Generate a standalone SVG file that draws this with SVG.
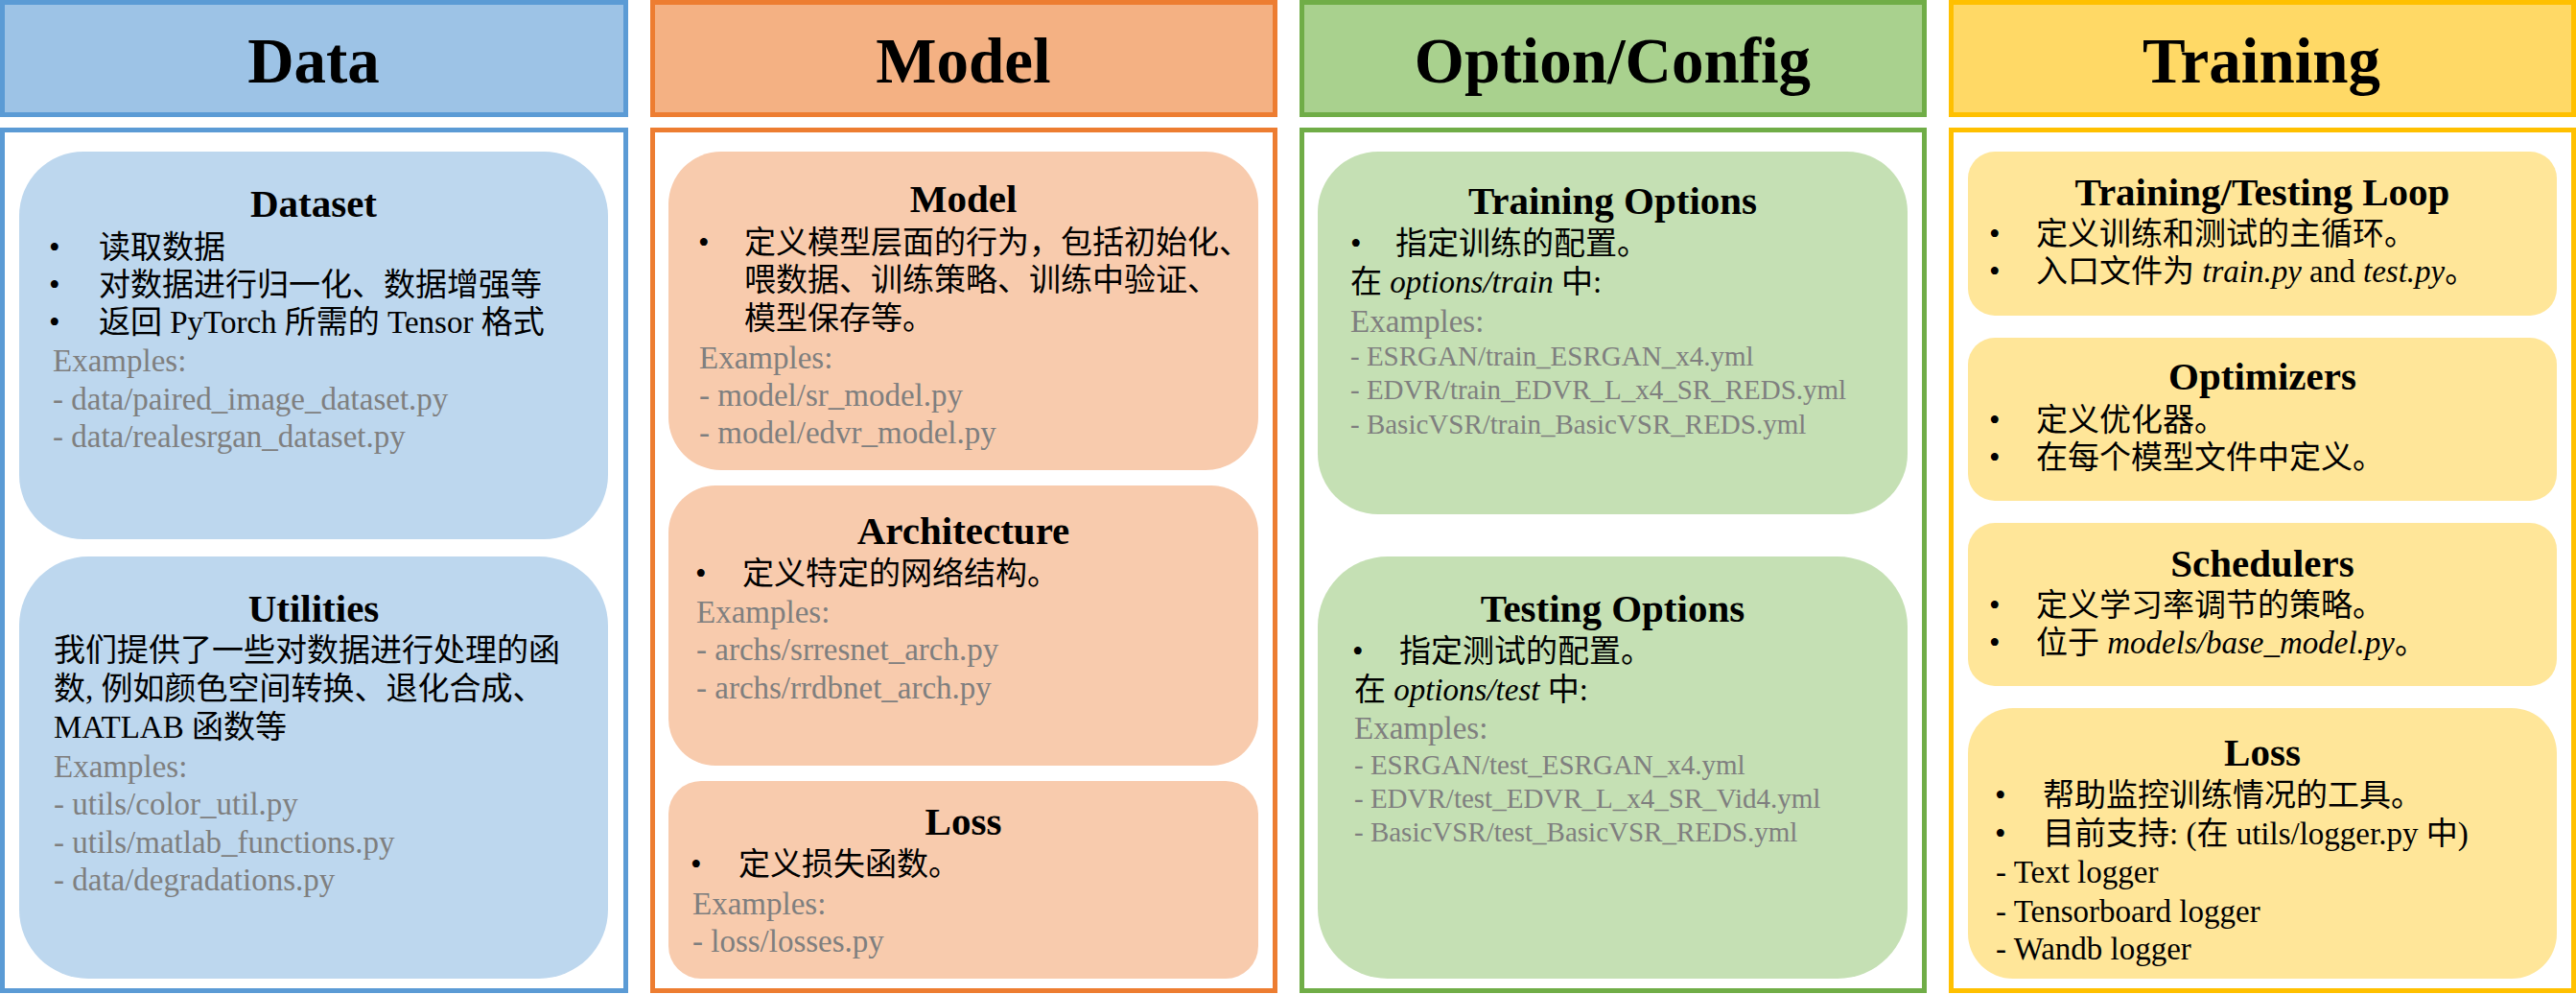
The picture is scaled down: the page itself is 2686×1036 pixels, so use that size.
<svg xmlns="http://www.w3.org/2000/svg" width="2686" height="1036" viewBox="0 0 2686 1036">
<style>
text{font-family:"Liberation Serif","Noto Sans CJK SC",serif;fill:#000}
.hd{font-size:67px;font-weight:bold;text-anchor:middle}
.tt{font-size:41px;font-weight:bold;text-anchor:middle}
.tx{font-size:33px}
.ex{font-size:33px;fill:#7F7F7F}
.ex2{font-size:29px;fill:#7F7F7F}
.it{font-style:italic}
.frame{fill:#fff;stroke-width:5}
.b-data{stroke:#5B9BD5}.b-model{stroke:#ED7D31}.b-opt{stroke:#70AD47}.b-train{stroke:#FFC000}
</style>
<rect width="2686" height="1036" fill="#fff"/>

<g id="col-data">
<rect class="b-data" x="2.5" y="2.5" width="650" height="117" fill="#9DC3E6" stroke-width="5"/>
<text class="hd" x="327" y="86">Data</text>
<rect class="frame b-data" x="2.5" y="135.5" width="650" height="897"/>
</g>
<g id="node-dataset">
<rect x="20" y="158" width="614" height="404" rx="67" fill="#BDD7EE"/>
<text class="tt" x="327" y="226">Dataset</text>
<text class="tx" x="51" y="269">•</text><text class="tx" x="103" y="269">读取数据</text>
<text class="tx" x="51" y="308">•</text><text class="tx" x="103" y="308">对数据进行归一化、数据增强等</text>
<text class="tx" x="51" y="347">•</text><text class="tx" x="103" y="347">返回 PyTorch 所需的 Tensor 格式</text>
<text class="ex" x="55" y="387">Examples:</text>
<text class="ex" x="55" y="427">- data/paired_image_dataset.py</text>
<text class="ex" x="55" y="466">- data/realesrgan_dataset.py</text>
</g>
<g id="node-utilities">
<rect x="20" y="580" width="614" height="440" rx="72" fill="#BDD7EE"/>
<text class="tt" x="327" y="648">Utilities</text>
<text class="tx" x="56" y="689">我们提供了一些对数据进行处理的函</text>
<text class="tx" x="56" y="729">数, 例如颜色空间转换、退化合成、</text>
<text class="tx" x="56" y="769">MATLAB 函数等</text>
<text class="ex" x="56" y="810">Examples:</text>
<text class="ex" x="56" y="849">- utils/color_util.py</text>
<text class="ex" x="56" y="889">- utils/matlab_functions.py</text>
<text class="ex" x="56" y="928">- data/degradations.py</text>
</g>

<g id="col-model">
<rect class="b-model" x="680.5" y="2.5" width="649" height="117" fill="#F4B183" stroke-width="5"/>
<text class="hd" x="1004.5" y="86">Model</text>
<rect class="frame b-model" x="680.5" y="135.5" width="649" height="897"/>
</g>
<g id="node-model">
<rect x="697" y="158" width="615" height="332" rx="55" fill="#F8CBAD"/>
<text class="tt" x="1004.5" y="221">Model</text>
<text class="tx" x="728" y="264">•</text><text class="tx" x="776" y="264">定义模型层面的行为，包括初始化、</text>
<text class="tx" x="776" y="303">喂数据、训练策略、训练中验证、</text>
<text class="tx" x="776" y="343">模型保存等。</text>
<text class="ex" x="729" y="384">Examples:</text>
<text class="ex" x="729" y="423">- model/sr_model.py</text>
<text class="ex" x="729" y="462">- model/edvr_model.py</text>
</g>
<g id="node-architecture">
<rect x="697" y="506" width="615" height="292" rx="49" fill="#F8CBAD"/>
<text class="tt" x="1004.5" y="567">Architecture</text>
<text class="tx" x="725" y="609">•</text><text class="tx" x="774" y="609">定义特定的网络结构。</text>
<text class="ex" x="726" y="649">Examples:</text>
<text class="ex" x="726" y="688">- archs/srresnet_arch.py</text>
<text class="ex" x="726" y="728">- archs/rrdbnet_arch.py</text>
</g>
<g id="node-loss-model">
<rect x="697" y="814" width="615" height="206" rx="34" fill="#F8CBAD"/>
<text class="tt" x="1004.5" y="870">Loss</text>
<text class="tx" x="720" y="912">•</text><text class="tx" x="770" y="912">定义损失函数。</text>
<text class="ex" x="722" y="953">Examples:</text>
<text class="ex" x="722" y="992">- loss/losses.py</text>
</g>

<g id="col-option">
<rect class="b-opt" x="1357.5" y="2.5" width="649" height="117" fill="#A9D18E" stroke-width="5"/>
<text class="hd" x="1681.5" y="86">Option/Config</text>
<rect class="frame b-opt" x="1357.5" y="135.5" width="649" height="897"/>
</g>
<g id="node-training-options">
<rect x="1374" y="158" width="615" height="378" rx="63" fill="#C5E0B4"/>
<text class="tt" x="1681.5" y="223">Training Options</text>
<text class="tx" x="1408" y="265">•</text><text class="tx" x="1455" y="265">指定训练的配置。</text>
<text class="tx" x="1408" y="305">在 <tspan class="it">options/train</tspan> 中:</text>
<text class="ex" x="1408" y="346">Examples:</text>
<text class="ex2" x="1408" y="381">- ESRGAN/train_ESRGAN_x4.yml</text>
<text class="ex2" x="1408" y="416">- EDVR/train_EDVR_L_x4_SR_REDS.yml</text>
<text class="ex2" x="1408" y="452">- BasicVSR/train_BasicVSR_REDS.yml</text>
</g>
<g id="node-testing-options">
<rect x="1374" y="580" width="615" height="440" rx="73" fill="#C5E0B4"/>
<text class="tt" x="1681.5" y="648">Testing Options</text>
<text class="tx" x="1410" y="690">•</text><text class="tx" x="1459" y="690">指定测试的配置。</text>
<text class="tx" x="1412" y="730">在 <tspan class="it">options/test</tspan> 中:</text>
<text class="ex" x="1412" y="770">Examples:</text>
<text class="ex2" x="1412" y="807">- ESRGAN/test_ESRGAN_x4.yml</text>
<text class="ex2" x="1412" y="842">- EDVR/test_EDVR_L_x4_SR_Vid4.yml</text>
<text class="ex2" x="1412" y="877">- BasicVSR/test_BasicVSR_REDS.yml</text>
</g>

<g id="col-training">
<rect class="b-train" x="2034.5" y="2.5" width="649" height="117" fill="#FFD966" stroke-width="5"/>
<text class="hd" x="2358" y="86">Training</text>
<rect class="frame b-train" x="2034.5" y="135.5" width="649" height="897"/>
</g>
<g id="node-loop">
<rect x="2052" y="158" width="614" height="171" rx="28" fill="#FFE699"/>
<text class="tt" x="2359" y="214">Training/Testing Loop</text>
<text class="tx" x="2074" y="255">•</text><text class="tx" x="2123" y="255">定义训练和测试的主循环。</text>
<text class="tx" x="2074" y="294">•</text><text class="tx" x="2123" y="294">入口文件为 <tspan class="it">train.py</tspan> and <tspan class="it">test.py</tspan>。</text>
</g>
<g id="node-optimizers">
<rect x="2052" y="352" width="614" height="170" rx="28" fill="#FFE699"/>
<text class="tt" x="2359" y="406">Optimizers</text>
<text class="tx" x="2074" y="449">•</text><text class="tx" x="2123" y="449">定义优化器。</text>
<text class="tx" x="2074" y="488">•</text><text class="tx" x="2123" y="488">在每个模型文件中定义。</text>
</g>
<g id="node-schedulers">
<rect x="2052" y="545" width="614" height="170" rx="28" fill="#FFE699"/>
<text class="tt" x="2359" y="601">Schedulers</text>
<text class="tx" x="2074" y="642">•</text><text class="tx" x="2123" y="642">定义学习率调节的策略。</text>
<text class="tx" x="2074" y="681">•</text><text class="tx" x="2123" y="681">位于 <tspan class="it">models/base_model.py</tspan>。</text>
</g>
<g id="node-loss-training">
<rect x="2052" y="738" width="614" height="282" rx="47" fill="#FFE699"/>
<text class="tt" x="2359" y="798">Loss</text>
<text class="tx" x="2080" y="840">•</text><text class="tx" x="2130" y="840">帮助监控训练情况的工具。</text>
<text class="tx" x="2080" y="880">•</text><text class="tx" x="2130" y="880">目前支持: (在 utils/logger.py 中)</text>
<text class="tx" x="2081" y="920">- Text logger</text>
<text class="tx" x="2081" y="961">- Tensorboard logger</text>
<text class="tx" x="2081" y="1000">- Wandb logger</text>
</g>
<g id="connectors"/>
</svg>
